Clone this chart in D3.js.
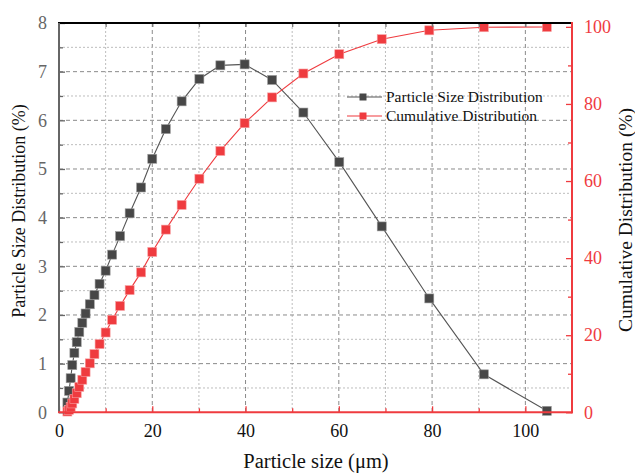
<!DOCTYPE html>
<html>
<head>
<meta charset="utf-8">
<script src="https://cdn.jsdelivr.net/npm/d3@7"></script>
<style>
  html, body { margin: 0; padding: 0; background: #fff; }
  svg { display: block; }
  text { font-family: "Liberation Serif", "DejaVu Serif", serif; }
</style>
</head>
<body>
<svg id="chart" width="635" height="473"></svg>
<script>
// Particle size classes (µm)
const sizes = [1.8, 2.15, 2.5, 2.85, 3.3, 3.8, 4.35, 5.0, 5.7, 6.6, 7.6, 8.7, 10.0, 11.4, 13.1, 15.15,
               17.6, 20.0, 22.9, 26.3, 30.1, 34.6, 39.8, 45.7, 52.4, 60.1, 69.2, 79.4, 91.1, 104.6];
// Volume fraction in each class (%)
const psd = [0.2, 0.44, 0.7, 0.97, 1.22, 1.44, 1.65, 1.84, 2.03, 2.22, 2.41, 2.64, 2.91, 3.24, 3.62, 4.09,
             4.62, 5.21, 5.82, 6.39, 6.85, 7.13, 7.15, 6.83, 6.16, 5.14, 3.82, 2.34, 0.78, 0.03];
// Cumulative passing (%)
const cumulative = [0.2, 0.65, 1.35, 2.3, 3.5, 4.95, 6.6, 8.45, 10.45, 12.7, 15.1, 17.7, 20.7, 24.0, 27.6, 31.7,
                    36.3, 41.6, 47.4, 53.8, 60.6, 67.8, 75.0, 81.7, 87.9, 92.9, 96.8, 99.1, 99.9, 99.95];
const xTicks = [0, 20, 40, 60, 80, 100];
const leftTicks = [0, 1, 2, 3, 4, 5, 6, 7, 8];
const rightTicks = [0, 20, 40, 60, 80, 100];
const seriesNames = ["Particle Size Distribution", "Cumulative Distribution"];

const DARK = "#474747", DARK_LINE = "#555", RED = "#ef3b3f";
const L = 59, R = 572, T = 23, B = 412.3;

const svg = d3.select("#chart");
const x = d3.scaleLinear().domain([0, 110]).range([L, R]);
const yL = d3.scaleLinear().domain([0, 8]).range([B, T]);
const yR = d3.scaleLinear().domain([0, 101]).range([B, T]);

// grid
const grid = svg.append("g");
d3.range(10, 110, 10).forEach(v => {
  const major = v % 20 === 0;
  grid.append("line").attr("x1", x(v)).attr("x2", x(v)).attr("y1", T).attr("y2", B)
    .attr("stroke", major ? "#8a8a8a" : "#bdbdbd").attr("stroke-width", 1)
    .attr("stroke-dasharray", major ? "4,3" : "2,2");
});
d3.range(0.5, 8, 0.5).forEach(v => {
  const major = Number.isInteger(v);
  grid.append("line").attr("x1", L).attr("x2", R).attr("y1", yL(v)).attr("y2", yL(v))
    .attr("stroke", major ? "#8a8a8a" : "#bdbdbd").attr("stroke-width", 1)
    .attr("stroke-dasharray", major ? "4,3" : "2,2");
});

// series
const pts = sizes.map((s, i) => ({ s, p: psd[i], c: cumulative[i] }));
const MS = 9;

svg.append("path").datum(pts)
  .attr("d", d3.line().x(d => x(d.s)).y(d => yL(d.p)))
  .attr("fill", "none").attr("stroke", DARK_LINE).attr("stroke-width", 1.1);
svg.append("g").selectAll("rect").data(pts).join("rect")
  .attr("x", d => x(d.s) - MS / 2).attr("y", d => yL(d.p) - MS / 2)
  .attr("width", MS).attr("height", MS)
  .attr("fill", DARK).attr("stroke", "#9a9a9a").attr("stroke-width", 0.6);

svg.append("path").datum(pts)
  .attr("d", d3.line().x(d => x(d.s)).y(d => yR(d.c)))
  .attr("fill", "none").attr("stroke", RED).attr("stroke-width", 1.1);
svg.append("g").selectAll("rect").data(pts).join("rect")
  .attr("x", d => x(d.s) - MS / 2).attr("y", d => yR(d.c) - MS / 2)
  .attr("width", MS).attr("height", MS)
  .attr("fill", RED).attr("stroke", "#f7a0a2").attr("stroke-width", 0.6);

// axes
function styleAxis(g, color, textColor) {
  g.select(".domain").remove();
  g.selectAll(".tick line").attr("stroke", color).attr("stroke-width", 1.3);
  g.selectAll(".tick text").attr("fill", textColor)
    .style("font-family", "'Liberation Serif', serif").style("font-size", "18px");
}

// bottom
const gx = svg.append("g").attr("transform", `translate(0,${B})`)
  .call(d3.axisBottom(x).tickValues(xTicks).tickSize(-6).tickPadding(12).tickFormat(d3.format("d")));
styleAxis(gx, RED, "#111");
svg.append("g").attr("transform", `translate(0,${B})`)
  .call(d3.axisBottom(x).tickValues(d3.range(10, 110, 20)).tickSize(-4).tickFormat(""))
  .call(g => styleAxis(g, RED, "#111"));

// top ticks
svg.append("g").attr("transform", `translate(0,${T})`)
  .call(d3.axisTop(x).tickValues(d3.range(10, 110, 10)).tickSize(-4).tickFormat(""))
  .call(g => styleAxis(g, "#777", "#111"));

// left
const gl = svg.append("g").attr("transform", `translate(${L},0)`)
  .call(d3.axisLeft(yL).tickValues(leftTicks).tickSize(-6).tickPadding(12).tickFormat(d3.format("d")));
styleAxis(gl, "#666", "#666");
svg.append("g").attr("transform", `translate(${L},0)`)
  .call(d3.axisLeft(yL).tickValues(d3.range(0.5, 8, 1)).tickSize(-4).tickFormat(""))
  .call(g => styleAxis(g, "#666", "#666"));

// right
const gr = svg.append("g").attr("transform", `translate(${R},0)`)
  .call(d3.axisRight(yR).tickValues(rightTicks).tickSize(-6).tickPadding(12).tickFormat(d3.format("d")));
styleAxis(gr, RED, RED);
svg.append("g").attr("transform", `translate(${R},0)`)
  .call(d3.axisRight(yR).tickValues(d3.range(10, 100, 20)).tickSize(-4).tickFormat(""))
  .call(g => styleAxis(g, RED, RED));

// frame
svg.append("line").attr("x1", L - 1).attr("x2", R + 1).attr("y1", T).attr("y2", T)
  .attr("stroke", "#000").attr("stroke-width", 2);
svg.append("line").attr("x1", L).attr("x2", L).attr("y1", T).attr("y2", B)
  .attr("stroke", "#666").attr("stroke-width", 2);
svg.append("line").attr("x1", R).attr("x2", R).attr("y1", T - 1).attr("y2", B + 1)
  .attr("stroke", RED).attr("stroke-width", 2);
svg.append("line").attr("x1", L - 1).attr("x2", R + 1).attr("y1", B).attr("y2", B)
  .attr("stroke", RED).attr("stroke-width", 2);

// axis titles
svg.append("text").attr("x", 316).attr("y", 468).attr("text-anchor", "middle")
  .attr("fill", "#111").style("font-size", "20.5px").text("Particle size (μm)");
svg.append("text").attr("transform", `translate(25,211) rotate(-90)`)
  .attr("text-anchor", "middle").attr("fill", "#111").style("font-size", "18px")
  .text("Particle Size Distribution (%)");
svg.append("text").attr("transform", `translate(632,220) rotate(-90)`)
  .attr("text-anchor", "middle").attr("fill", "#111").style("font-size", "19.5px")
  .text("Cumulative Distribution (%)");

// legend
const legend = svg.append("g");
[[DARK_LINE, DARK, 97], [RED, RED, 116]].forEach(([lc, fc, ly], i) => {
  legend.append("line").attr("x1", 347).attr("x2", 382).attr("y1", ly).attr("y2", ly)
    .attr("stroke", lc).attr("stroke-width", 1.1);
  legend.append("rect").attr("x", 363 - 3.5).attr("y", ly - 3.5).attr("width", 7).attr("height", 7)
    .attr("fill", fc);
  legend.append("text").attr("x", 386).attr("y", ly + 5).attr("fill", "#111")
    .style("font-size", "15.5px").text(seriesNames[i]);
});
</script>
</body>
</html>
